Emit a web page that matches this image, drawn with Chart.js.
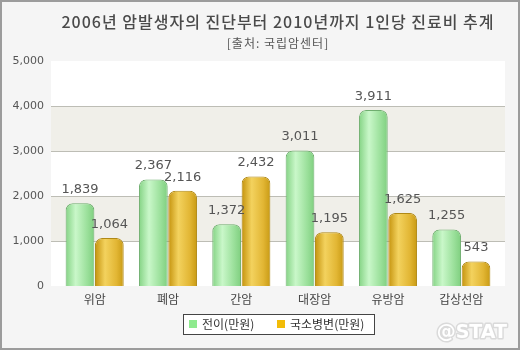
<!DOCTYPE html>
<html>
<head>
<meta charset="utf-8">
<script src="https://cdn.jsdelivr.net/npm/chart.js@4.4.0/dist/chart.umd.min.js"></script>
<style>
  html, body { margin: 0; padding: 0; background: #f5f5f5; }
  #wrap { width: 520px; height: 350px; }
</style>
</head>
<body>
<div id="wrap"><canvas id="costChart" width="520" height="350"></canvas></div>
<script>
const categories = ["위암", "폐암", "간암", "대장암", "유방암", "갑상선암"];
const metastasis = [1839, 2367, 1372, 3011, 3911, 1255];
const localLesion = [1064, 2116, 2432, 1195, 1625, 543];
const yTicks = [0, 1000, 2000, 3000, 4000, 5000];

const titleText = "2006년 암발생자의 진단부터 2010년까지 1인당 진료비 추계";
const sourceText = "[출처: 국립암센터]";

const KR = "'Noto Sans CJK KR', 'Noto Sans', sans-serif";
const CAT_PCT = 0.8;
const BAR_PCT = 0.98;

// horizontal shading across each bar: darker edges, bright stripe left of centre
const shades = [
  ["#84d384", "#c9f7c9", "#9be09b", "#7fcf7f"],
  ["#c4920c", "#f3d25e", "#e2b634", "#c89a14"]
];

function barFill(ctx) {
  const chart = ctx.chart;
  const x = chart.scales.x;
  const stops = shades[ctx.datasetIndex];
  if (!x || ctx.dataIndex === undefined) return stops[1];
  const cat = x.width / categories.length;
  const bw = cat * CAT_PCT / 2 * BAR_PCT;
  const side = ctx.datasetIndex === 0 ? -1 : 1;
  const cx = x.getPixelForValue(ctx.dataIndex) + side * cat * CAT_PCT / 4;
  if (!isFinite(cx) || !isFinite(bw) || bw <= 0) return stops[1];
  const g = chart.ctx.createLinearGradient(cx - bw / 2, 0, cx + bw / 2, 0);
  g.addColorStop(0, stops[0]);
  g.addColorStop(0.35, stops[1]);
  g.addColorStop(0.75, stops[2]);
  g.addColorStop(1, stops[3]);
  return g;
}

const frame = {
  id: "frame",
  beforeDraw(chart) {
    const c = chart.ctx;
    const { left, right, top, bottom } = chart.chartArea;
    const y = chart.scales.y;
    c.save();
    c.fillStyle = "#f5f5f5";
    c.fillRect(0, 0, chart.width, chart.height);
    c.strokeStyle = "#9c9c9c";
    c.lineWidth = 2;
    c.strokeRect(1, 1, chart.width - 2, chart.height - 2);

    // plot background with alternating bands, a little wider than the category axis
    const l = left - 7, r = right + 7;
    c.fillStyle = "#ffffff";
    c.fillRect(l, top, r - l, bottom - top);
    for (let i = 0; i < yTicks.length - 1; i++) {
      if (i % 2 === 1) {
        const y0 = y.getPixelForValue(yTicks[i + 1]);
        const y1 = y.getPixelForValue(yTicks[i]);
        c.fillStyle = "#f0efe9";
        c.fillRect(l, y0, r - l, y1 - y0);
      }
    }
    c.strokeStyle = "#bdbdb5";
    c.lineWidth = 1;
    for (let i = 1; i < yTicks.length - 1; i++) {
      const py = Math.round(y.getPixelForValue(yTicks[i])) + 0.5;
      c.beginPath();
      c.moveTo(l, py);
      c.lineTo(r, py);
      c.stroke();
    }

    // title and source, centred over the plot
    const mid = (left + right) / 2;
    c.textAlign = "center";
    c.textBaseline = "middle";
    c.fillStyle = "#4a4a4a";
    c.letterSpacing = "1px";
    c.font = "500 16px " + KR;
    c.fillText(titleText, mid, 22);
    c.fillStyle = "#555555";
    c.font = "12px " + KR;
    c.fillText(sourceText, mid, 43);
    c.letterSpacing = "0px";
    c.restore();
  },
  afterDraw(chart) {
    const c = chart.ctx;
    c.save();
    // value labels above each bar
    c.font = "13px 'DejaVu Sans', sans-serif";
    c.fillStyle = "#555555";
    c.textAlign = "center";
    c.textBaseline = "bottom";
    chart.data.datasets.forEach((ds, di) => {
      chart.getDatasetMeta(di).data.forEach((bar, i) => {
        c.fillText(ds.data[i].toLocaleString("en-US"), bar.x, bar.y - 7);
      });
    });

    // legend box
    c.fillStyle = "#ffffff";
    c.fillRect(183, 314, 191, 20);
    c.strokeStyle = "#444444";
    c.lineWidth = 1;
    c.strokeRect(183.5, 314.5, 191, 20);
    const items = [
      { x: 189, color: "#8eea8e" },
      { x: 277, color: "#f2bc08" }
    ];
    c.font = "12px " + KR;
    c.textAlign = "left";
    c.textBaseline = "middle";
    items.forEach((it, i) => {
      c.fillStyle = it.color;
      c.fillRect(it.x, 320, 8, 8);
      c.fillStyle = "#333333";
      c.fillText(chart.data.datasets[i].label, it.x + 13, 324.5);
    });

    // watermark
    c.font = "bold 19px 'DejaVu Sans', sans-serif";
    c.textAlign = "right";
    c.lineJoin = "round";
    c.strokeStyle = "#dadada";
    c.lineWidth = 3;
    c.strokeText("@STAT", 507, 333);
    c.fillStyle = "#ffffff";
    c.fillText("@STAT", 507, 333);
    c.restore();
  }
};

const chart = new Chart(document.getElementById("costChart"), {
  type: "bar",
  data: {
    labels: categories,
    datasets: [
      {
        label: "전이(만원)",
        data: metastasis,
        backgroundColor: barFill,
        borderColor: "#6fae6f",
        borderWidth: 1,
        borderRadius: { topLeft: 7, topRight: 7 },
        borderSkipped: "bottom",
        categoryPercentage: CAT_PCT,
        barPercentage: BAR_PCT
      },
      {
        label: "국소병변(만원)",
        data: localLesion,
        backgroundColor: barFill,
        borderColor: "#b08916",
        borderWidth: 1,
        borderRadius: { topLeft: 7, topRight: 7 },
        borderSkipped: "bottom",
        categoryPercentage: CAT_PCT,
        barPercentage: BAR_PCT
      }
    ]
  },
  options: {
    responsive: false,
    animation: false,
    layout: { padding: { top: 61, right: 22, bottom: 40, left: 0 } },
    plugins: {
      legend: { display: false },
      title: { display: false },
      tooltip: { enabled: false }
    },
    scales: {
      x: {
        grid: { display: false, drawTicks: false },
        border: { display: false },
        ticks: { color: "#444444", font: { family: KR, size: 12 }, padding: 6 },
        afterFit(scale) { scale.height = 24; }
      },
      y: {
        min: 0,
        max: 5000,
        afterBuildTicks(scale) { scale.ticks = yTicks.map(v => ({ value: v })); },
        grid: { display: false, drawTicks: false },
        border: { display: false },
        ticks: {
          color: "#555555",
          font: { family: "'DejaVu Sans', sans-serif", size: 11 },
          padding: 14,
          callback: v => v.toLocaleString("en-US")
        },
        afterFit(scale) { scale.width = 58; }
      }
    }
  },
  plugins: [frame]
});
</script>
</body>
</html>
